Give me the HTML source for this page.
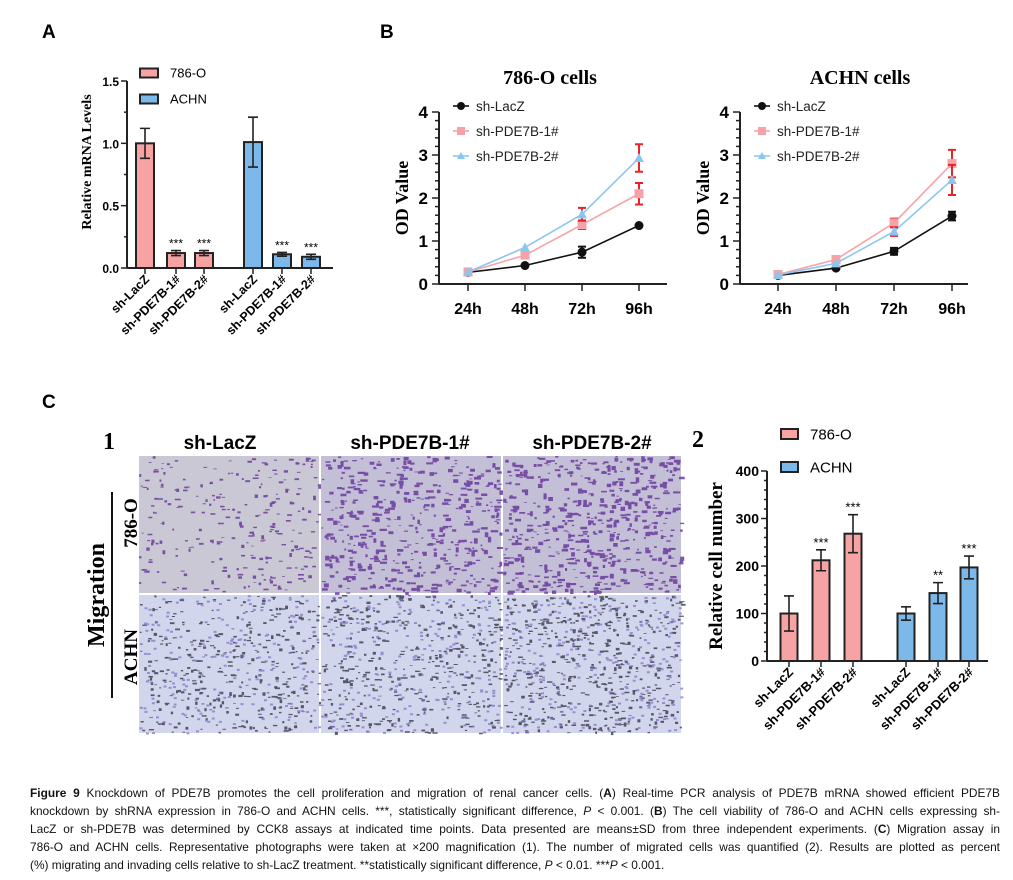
<!DOCTYPE html>
<html><head><meta charset="utf-8"><style>
body{margin:0;background:#fff;width:1013px;height:880px;overflow:hidden;font-family:"Liberation Sans",sans-serif}
#fig{position:absolute;left:0;top:0}
.cap{position:absolute;left:30px;width:970px;font-size:11.9px;line-height:18px;color:#111;top:784px}
.cap div{text-align:justify;text-align-last:justify;white-space:nowrap;height:18px}
.cap div.last{text-align-last:left}
</style></head><body>
<svg id="fig" width="1013" height="780" xmlns="http://www.w3.org/2000/svg" font-family="Liberation Sans, sans-serif"></svg>
<div class="cap">
<div><b>Figure 9</b> Knockdown of PDE7B promotes the cell proliferation and migration of renal cancer cells. (<b>A</b>) Real-time PCR analysis of PDE7B mRNA showed efficient PDE7B</div>
<div>knockdown by shRNA expression in 786-O and ACHN cells. ***, statistically significant difference, <i>P</i> &lt; 0.001. (<b>B</b>) The cell viability of 786-O and ACHN cells expressing sh-</div>
<div>LacZ or sh-PDE7B was determined by CCK8 assays at indicated time points. Data presented are means±SD from three independent experiments. (<b>C</b>) Migration assay in</div>
<div>786-O and ACHN cells. Representative photographs were taken at ×200 magnification (1). The number of migrated cells was quantified (2). Results are plotted as percent</div>
<div class="last">(%) migrating and invading cells relative to sh-LacZ treatment. **statistically significant difference, <i>P</i> &lt; 0.01. ***<i>P</i> &lt; 0.001.</div>
</div>
<script>
// ---- data ----
const barCats = ["sh-LacZ","sh-PDE7B-1#","sh-PDE7B-2#","sh-LacZ","sh-PDE7B-1#","sh-PDE7B-2#"];
const mrnaVals = [1.0,0.12,0.12,1.01,0.11,0.09];
const mrnaErr = [0.12,0.02,0.02,0.2,0.015,0.02];
const mrnaStars = ["","***","***","","***","***"];
const mrnaTicks = ["0.0","0.5","1.0","1.5"];
const timeCats = ["24h","48h","72h","96h"];
const odTicks = ["0","1","2","3","4"];
const seriesNames = ["sh-LacZ","sh-PDE7B-1#","sh-PDE7B-2#"];
const od786Lac = [0.27,0.43,0.74,1.36];
const od786Lac_err = [0.03,0.04,0.13,0.04];
const od786P1 = [0.28,0.67,1.38,2.1];
const od786P1_err = [0.02,0.05,0.1,0.25];
const od786P2 = [0.28,0.85,1.62,2.93];
const od786P2_err = [0.02,0.04,0.15,0.32];
const odAchnLac = [0.2,0.37,0.76,1.58];
const odAchnLac_err = [0.02,0.03,0.08,0.1];
const odAchnP1 = [0.22,0.57,1.42,2.8];
const odAchnP1_err = [0.02,0.04,0.1,0.32];
const odAchnP2 = [0.21,0.48,1.22,2.42];
const odAchnP2_err = [0.02,0.03,0.1,0.35];
const cellVals = [100,212,268,100,143,197];
const cellErr = [37,22,40,14,22,24];
const cellStars = ["","***","***","","**","***"];
const cellTicks = ["0","100","200","300","400"];

const svg = document.getElementById('fig');
const NS = "http://www.w3.org/2000/svg";
function mk(tag, at, parent){const e=document.createElementNS(NS,tag);for(const k in at)e.setAttribute(k,at[k]);(parent||svg).appendChild(e);return e;}
function txt(s, at, parent){const e=mk('text',at,parent);e.textContent=s;return e;}
const PINK="#f7a3a3", BLUE="#7cb9ea";

// panel letters
[["A",42,38],["B",380,38],["C",42,408]].forEach(p=>{const t=txt(p[0],{x:p[1],y:p[2],'font-size':19,'font-weight':'bold'});

});

// generic bar chart
function barChart(cfg){
  const g=mk('g',{});
  
  
  const y=v=>cfg.y0-(v/cfg.vmax)*(cfg.y0-cfg.ytop);
  mk('line',{x1:cfg.ax,y1:cfg.ytop,x2:cfg.ax,y2:cfg.y0,stroke:'#222','stroke-width':2},g);
  mk('line',{x1:cfg.ax,y1:cfg.y0,x2:cfg.axEnd,y2:cfg.y0,stroke:'#222','stroke-width':2},g);
  for(let i=0;i<=cfg.minorN;i++){const v=cfg.vmax*i/cfg.minorN;const major=i%(cfg.minorN/(cfg.ticks.length-1))===0;
    mk('line',{x1:cfg.ax-(major?6:3),y1:y(v),x2:cfg.ax,y2:y(v),stroke:'#222','stroke-width':1.5},g);}
  cfg.ticks.forEach((t,i)=>{const v=cfg.vmax*i/(cfg.ticks.length-1);
    txt(t,{x:cfg.ax-8,y:y(v)+5,'text-anchor':'end','font-size':cfg.tfs,'font-weight':'bold'},g);});
  const yt=txt(cfg.ytitle,{transform:`translate(${cfg.ytx},${cfg.yty}) rotate(-90)`,'text-anchor':'middle','font-family':'Liberation Serif, serif','font-weight':'bold','font-size':cfg.yfs},g);
  
  
  cfg.vals.forEach((v,i)=>{const cx=cfg.xs[i];const col=i<3?PINK:BLUE;
    const r=mk('rect',{x:cx-cfg.bw/2,y:y(v),width:cfg.bw,height:cfg.y0-y(v),fill:col,stroke:'#222','stroke-width':2},g);
    
    
    const e=cfg.err[i];
    mk('path',{d:`M${cx},${y(v+e)}V${y(v-e)}M${cx-5},${y(v+e)}H${cx+5}M${cx-5},${y(v-e)}H${cx+5}`,stroke:'#222','stroke-width':1.6,fill:'none'},g);
    if(cfg.stars[i])txt(cfg.stars[i],{x:cx,y:y(v+e)-3,'text-anchor':'middle','font-size':cfg.sfs},g);
    mk('line',{x1:cx,y1:cfg.y0,x2:cx,y2:cfg.y0+6,stroke:'#222','stroke-width':1.5},g);
    const l=txt(barCats[i],{transform:`translate(${cx+5},${cfg.y0+12}) rotate(-45)`,'text-anchor':'end','font-size':cfg.lfs,'font-weight':'bold'},g);
    
    
  });
  [["786-O",PINK,cfg.legY[0]],["ACHN",BLUE,cfg.legY[1]]].forEach(L=>{
    const lg=mk('g',{},g);
    
    
    mk('rect',{x:cfg.legX,y:L[2]-cfg.legH/2,width:cfg.legW,height:cfg.legH,fill:L[1],stroke:'#222','stroke-width':2},lg);
    txt(L[0],{x:cfg.legX+cfg.legW+12,y:L[2]+cfg.legF*0.36,'font-size':cfg.legF},lg);
  });
}
barChart({name:'chart-a-mrna',ax:127,axEnd:333,y0:268,ytop:81,vmax:1.5,minorN:6,ticks:mrnaTicks,tfs:12,
  ytitle:'Relative mRNA Levels',ytx:91,yty:162,yfs:14,vals:mrnaVals,err:mrnaErr,stars:mrnaStars,
  xs:[145,176,204,253,282,311],bw:18,sfs:12,lfs:12.5,legX:140,legW:18,legH:9,legY:[73,99],legF:13});
barChart({name:'chart-c-cells',ax:767,axEnd:988,y0:661,ytop:471,vmax:400,minorN:20,ticks:cellTicks,tfs:14,
  ytitle:'Relative cell number',ytx:722,yty:566,yfs:19,vals:cellVals,err:cellErr,stars:cellStars,
  xs:[789,821,853,906,938,969],bw:17,sfs:13,lfs:13,legX:781,legW:17,legH:10,legY:[434,467],legF:15});
txt('2',{x:692,y:447,'font-family':'Liberation Serif, serif','font-weight':'bold','font-size':24});

// line charts
function lineChart(cfg){
  const g=mk('g',{});
  
  
  const y=v=>cfg.y0-(v/4)*(cfg.y0-cfg.ytop);
  const x=i=>cfg.xs[0]+i*(cfg.xs[1]-cfg.xs[0]);
  mk('line',{x1:cfg.ax,y1:cfg.ytop,x2:cfg.ax,y2:cfg.y0,stroke:'#222','stroke-width':2},g);
  mk('line',{x1:cfg.ax,y1:cfg.y0,x2:cfg.ax+228,y2:cfg.y0,stroke:'#222','stroke-width':2},g);
  for(let i=0;i<=20;i++){const maj=i%5===0;mk('line',{x1:cfg.ax-(maj?7:4),y1:y(i/5),x2:cfg.ax,y2:y(i/5),stroke:'#222','stroke-width':1.5},g);}
  odTicks.forEach((t,i)=>txt(t,{x:cfg.ax-11,y:y(i)+6,'text-anchor':'end','font-size':17,'font-weight':'bold'},g));
  timeCats.forEach((t,i)=>{mk('line',{x1:x(i),y1:cfg.y0,x2:x(i),y2:cfg.y0+7,stroke:'#222','stroke-width':1.5},g);
    txt(t,{x:x(i),y:cfg.y0+30,'text-anchor':'middle','font-size':16,'font-weight':'bold'},g);});
  const tt=txt(cfg.title,{x:cfg.tx,y:84,'text-anchor':'middle','font-family':'Liberation Serif, serif','font-weight':'bold','font-size':20},g);
  
  
  txt('OD Value',{transform:`translate(${cfg.ax-31},${(cfg.y0+cfg.ytop)/2}) rotate(-90)`,'text-anchor':'middle','font-family':'Liberation Serif, serif','font-weight':'bold','font-size':18},g);
  const cols=['#111','#f5a3a8','#8cc6ee'];
  cfg.series.forEach((s,k)=>{
    const sg=mk('g',{},g);
    
    
    mk('polyline',{points:s.v.map((v,i)=>x(i)+','+y(v)).join(' '),fill:'none',stroke:cols[k],'stroke-width':1.6},sg);
    s.v.forEach((v,i)=>{const e=s.e[i];
      if(e>0.05)mk('path',{d:`M${x(i)},${y(v+e)}V${y(v-e)}M${x(i)-4},${y(v+e)}H${x(i)+4}M${x(i)-4},${y(v-e)}H${x(i)+4}`,stroke:k?'#e8242b':'#111','stroke-width':2,fill:'none'},sg);
      if(k===0)mk('circle',{cx:x(i),cy:y(v),r:4.5,fill:'#111'},sg);
      else if(k===1)mk('rect',{x:x(i)-4.5,y:y(v)-4.5,width:9,height:9,fill:cols[1]},sg);
      else mk('path',{d:`M${x(i)},${y(v)-5}L${x(i)+5},${y(v)+4}L${x(i)-5},${y(v)+4}Z`,fill:cols[2]},sg);
    });
  });
  seriesNames.forEach((n,k)=>{const ly=cfg.legY+k*25;const lx=cfg.ax+22;
    const lg=mk('g',{},g);
    
    
    mk('line',{x1:lx-8,y1:ly,x2:lx+8,y2:ly,stroke:cols[k],'stroke-width':1.6},lg);
    if(k===0)mk('circle',{cx:lx,cy:ly,r:4,fill:'#111'},lg);
    else if(k===1)mk('rect',{x:lx-4,y:ly-4,width:8,height:8,fill:cols[1]},lg);
    else mk('path',{d:`M${lx},${ly-4}L${lx+4},${ly+3}L${lx-4},${ly+3}Z`,fill:cols[2]},lg);
    txt(n,{x:lx+15,y:ly+5,'font-size':13.5,fill:'#222'},lg);});
}
lineChart({name:'chart-b-786o',ax:439,y0:284,ytop:112,xs:[468,525],title:'786-O cells',tx:550,legY:106,
  series:[{v:od786Lac,e:od786Lac_err},{v:od786P1,e:od786P1_err},{v:od786P2,e:od786P2_err}]});
lineChart({name:'chart-b-achn',ax:740,y0:284,ytop:112,xs:[778,836],title:'ACHN cells',tx:860,legY:106,
  series:[{v:odAchnLac,e:odAchnLac_err},{v:odAchnP1,e:odAchnP1_err},{v:odAchnP2,e:odAchnP2_err}]});

// microscopy panel
const mg=mk('g',{});


txt('1',{x:103,y:449,'font-family':'Liberation Serif, serif','font-weight':'bold','font-size':24},mg);
["sh-LacZ","sh-PDE7B-1#","sh-PDE7B-2#"].forEach((h,i)=>txt(h,{x:[220,410,592][i],y:449,'text-anchor':'middle','font-size':19,'font-weight':'bold'},mg));
const colsX=[139,321,503,683], rows=[[456,593],[595,733]];
let seed=7;function rnd(){seed=(seed*16807)%2147483647;return seed/2147483647;}
const dens=[[260,480,560],[380,420,500]];
rows.forEach((r,ri)=>{for(let c=0;c<3;c++){
  const x0=colsX[c],w=colsX[c+1]-colsX[c]-2,y0=r[0],h=r[1]-r[0];
  const pic=mk('g',{},mg);
  
  
  mk('rect',{x:x0,y:y0,width:w,height:h,fill:ri?'#d2d6ec':(c?'#c3bfd6':'#cac8d4')},pic);
  let d='';const n=dens[ri][c];
  for(let k=0;k<n;k++){const px=x0+rnd()*w,py=y0+rnd()*h,s=1.2+rnd()*(ri?2:(c?3.5:2.2));const t=0.5+rnd();
    d+=`M${px.toFixed(1)},${py.toFixed(1)}h${(s*t+1).toFixed(1)}v${(s/t*0.7).toFixed(1)}h${(-(s*t+1)).toFixed(1)}z`;}
  mk('path',{d:d,fill:ri?'#2d2c40':'#6a3a9c',opacity:ri?0.75:0.85},pic);
  if(ri){let d2='';for(let k=0;k<n/2;k++){const px=x0+rnd()*w,py=y0+rnd()*h;d2+=`M${px.toFixed(1)},${py.toFixed(1)}h3v2h-3z`;}
    mk('path',{d:d2,fill:'#7a6fc4',opacity:0.7},pic);}
}});
mk('line',{x1:112,y1:492,x2:112,y2:698,stroke:'#111','stroke-width':2},mg);
txt('Migration',{transform:'translate(104,595) rotate(-90)','text-anchor':'middle','font-family':'Liberation Serif, serif','font-weight':'bold','font-size':24},mg);
txt('786-O',{transform:'translate(137,523) rotate(-90)','text-anchor':'middle','font-family':'Liberation Serif, serif','font-weight':'bold','font-size':19},mg);
txt('ACHN',{transform:'translate(137,657) rotate(-90)','text-anchor':'middle','font-family':'Liberation Serif, serif','font-weight':'bold','font-size':19},mg);
</script>
</body></html>
